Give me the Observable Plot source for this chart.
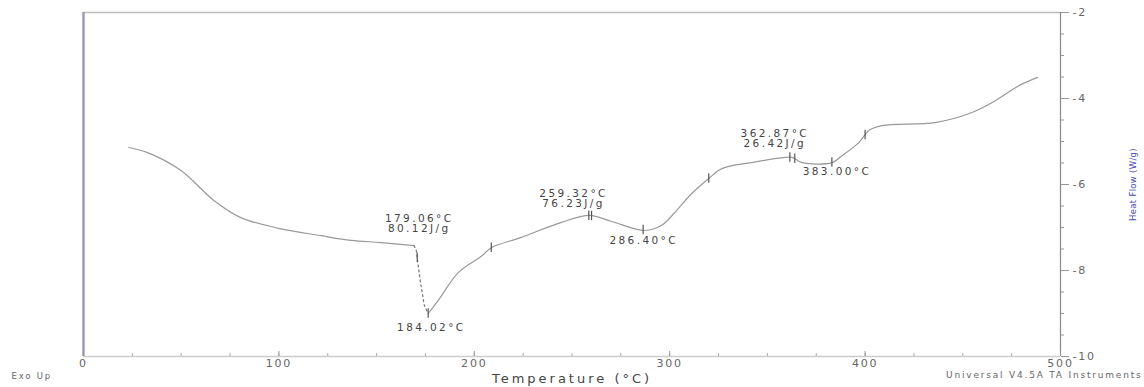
<!DOCTYPE html>
<html>
<head>
<meta charset="utf-8">
<script src="https://cdn.jsdelivr.net/npm/d3@7"></script>
<script src="https://cdn.jsdelivr.net/npm/@observablehq/plot@0.6"></script>
<style>
  html, body { margin: 0; padding: 0; background: #fff; }
  #chart svg text { letter-spacing: 1.8px; }
  #chart svg g.xlabel text { letter-spacing: 3px; }
  #chart svg g.ann text { letter-spacing: 2.4px; }
  #chart svg g.ylabel text { letter-spacing: 0.3px; }
</style>
</head>
<body>
<div id="chart"></div>
<script>
// Curve: temperature (°C) and heat flow (W/g)
const temps = [23.1, 32.8, 49.7, 66.7, 80.5, 100, 121.5, 136.9, 152.3, 169.2,
  170.3, 172.3, 174.4, 176.4,
  181.5, 191.8, 203.6, 208.7, 224.1, 244.6, 259.0, 270.3, 287.2, 295.9, 303.6, 311.3, 320,
  326.7, 342, 359, 362.6, 367.7, 383.1, 388.2, 396.9, 402, 408.7, 435.9, 453.3, 466.7, 478, 488.2];
const heatFlow = [-5.14, -5.26, -5.67, -6.37, -6.77, -7.02, -7.19, -7.30, -7.35, -7.42,
  -7.53, -8.23, -8.81, -9.00,
  -8.70, -8.05, -7.67, -7.47, -7.23, -6.88, -6.72, -6.86, -7.07, -6.95, -6.60, -6.21, -5.86,
  -5.63, -5.49, -5.37, -5.37, -5.49, -5.49, -5.33, -5.02, -4.74, -4.63, -4.56, -4.35, -4.05, -3.72, -3.51];
// Segment of the curve drawn dashed (the sharp endothermic drop)
const dropStart = 169.2, dropEnd = 176.4;

// Analysis markers (temperatures along the curve)
const markerTemps = [170.8, 176.4, 208.7, 258.6, 260.0, 286.4, 320, 361.5, 364, 383.0, 400];

// Annotations
const annText = ["179.06°C\n80.12J/g", "184.02°C", "259.32°C\n76.23J/g", "286.40°C", "362.87°C\n26.42J/g", "383.00°C"];
const annTemp = [171.8, 178.0, 250.8, 286.7, 353.8, 385.6];
const annFlow = [-6.91, -9.33, -6.33, -7.30, -4.93, -5.70];

const xTicks = [0, 100, 200, 300, 400, 500];
const xMinor = d3.range(0, 501, 25);
const yTicks = [-2, -4, -6, -8, -10];
const yMinor = d3.range(-10, -1.99, 0.5);

const curve = temps.map((t, i) => ({t, hf: heatFlow[i]}));
const part1 = curve.filter(d => d.t <= dropStart);
const drop = curve.filter(d => d.t >= dropStart && d.t <= dropEnd);
const part2 = curve.filter(d => d.t >= dropEnd);
const interp = t => {
  for (let i = 1; i < temps.length; i++) {
    if (t <= temps[i]) {
      const a = (t - temps[i - 1]) / (temps[i] - temps[i - 1]);
      return heatFlow[i - 1] + a * (heatFlow[i] - heatFlow[i - 1]);
    }
  }
  return heatFlow[heatFlow.length - 1];
};
const markers = markerTemps.map(t => ({t, hf: interp(t)}));
const anns = annText.map((s, i) => ({s, t: annTemp[i], hf: annFlow[i]}));

const font = "DejaVu Sans, Liberation Sans, sans-serif";

const chart = Plot.plot({
  width: 1144,
  height: 387,
  marginLeft: 83,
  marginRight: 84,
  marginTop: 12,
  marginBottom: 31,
  style: {fontFamily: font, fontSize: "10px", color: "#555", background: "#fff"},
  x: {domain: [0, 500]},
  y: {domain: [-10, -2]},
  marks: [
    // frame
    Plot.ruleY([-2], {stroke: "#bbb", strokeWidth: 1.5}),
    Plot.ruleY([-10], {stroke: "#ccc", strokeWidth: 1.5}),
    Plot.ruleX([0], {stroke: "#9a9ab8", strokeWidth: 2.5}),
    Plot.ruleX([500], {stroke: "#888", strokeWidth: 1.2}),
    // x axis
    Plot.axisX({ticks: xMinor, tickSize: -3, tickFormat: () => "", stroke: "#aaa", label: null}),
    Plot.axisX({ticks: xTicks, tickSize: -5, tickPadding: 8, stroke: "#999", fill: "#666",
      tickFormat: d => String(d), fontSize: 11, label: null}),
    Plot.text(["Temperature (°C)"], {frameAnchor: "bottom", dy: 26, fill: "#444", fontSize: 13,
      fontFamily: font, className: "xlabel"}),
    // y axis on the right
    Plot.axisY({anchor: "right", ticks: yMinor, tickSize: 3, tickFormat: () => "", stroke: "#999", label: null}),
    Plot.axisY({anchor: "right", ticks: yTicks, tickSize: 8, tickPadding: 4, stroke: "#999", fill: "#666",
      tickFormat: d => String(d), fontSize: 11, label: null}),
    // curve
    Plot.line(part1, {x: "t", y: "hf", stroke: "#999", strokeWidth: 1.2, curve: "catmull-rom"}),
    Plot.line(drop, {x: "t", y: "hf", stroke: "#777", strokeWidth: 1.2, strokeDasharray: "2,3"}),
    Plot.line(part2, {x: "t", y: "hf", stroke: "#999", strokeWidth: 1.2, curve: "catmull-rom"}),
    // markers
    Plot.ruleX(markers, {x: "t", y1: d => d.hf - 0.11, y2: d => d.hf + 0.11, stroke: "#555", strokeWidth: 1.2}),
    // annotations
    Plot.text(anns, {x: "t", y: "hf", text: "s", fontSize: 10.5, fill: "#444", lineHeight: 1.0,
      fontFamily: font, className: "ann"}),
    // footers and y label
    Plot.text(["Heat Flow (W/g)"], {frameAnchor: "right", dx: 73, rotate: -90, textAnchor: "middle",
      fill: "#4a4aa8", fontSize: 8.5, fontFamily: font, className: "ylabel"}),
    Plot.text(["Exo Up"], {frameAnchor: "bottom-left", dx: -72, dy: 22, textAnchor: "start", fill: "#666", fontSize: 8.5, fontFamily: font}),
    Plot.text(["Universal V4.5A TA Instruments"], {frameAnchor: "bottom-right", dx: 82, dy: 21, textAnchor: "end", fill: "#666", fontSize: 9, fontFamily: font})
  ]
});
document.getElementById("chart").appendChild(chart);
</script>
</body>
</html>
